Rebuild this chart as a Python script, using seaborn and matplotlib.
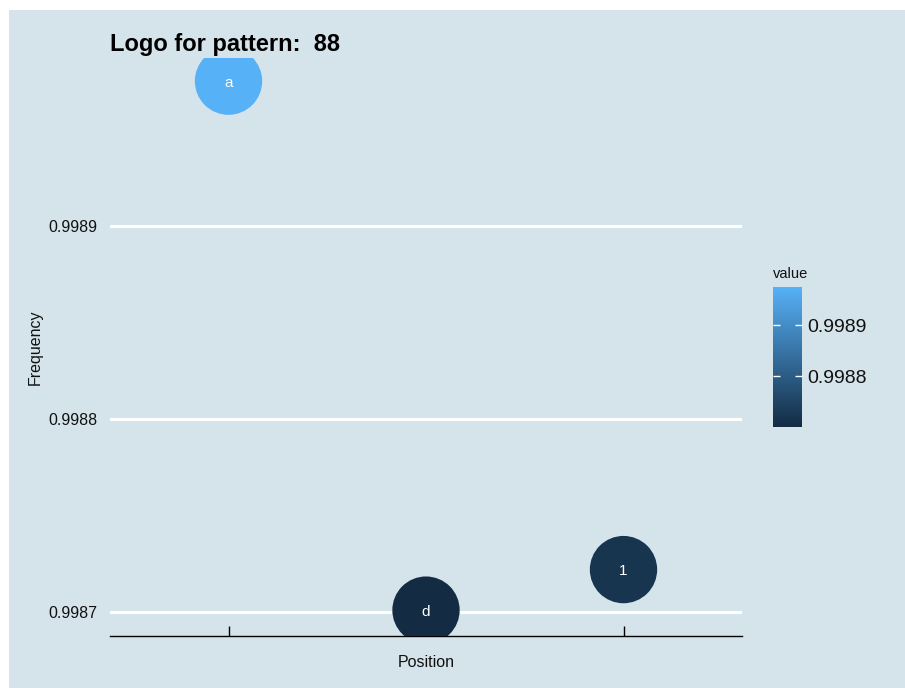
import matplotlib
matplotlib.use('Agg')
import matplotlib.pyplot as plt
import matplotlib.colors as mcolors
import matplotlib.patches as mpatches
import pandas as pd
import numpy as np
import seaborn as sns

# 数据
positions = [1, 2, 3]
letters = ['a', 'd', '1']
freq_values = [0.998975, 0.998701, 0.998722]

bg_color = '#d5e4eb'
low_color = '#132B43'
high_color = '#56B1F7'

df = pd.DataFrame({'Position': positions, 'Frequency': freq_values, 'label': letters})

sns.set_theme(style='white')
plt.rcParams['font.family'] = ['Liberation Sans', 'DejaVu Sans']

fig = plt.figure(figsize=(9.05, 6.88), dpi=100)
fig.patch.set_facecolor('white')
# 背景（上、左留白）
fig.patches.append(mpatches.Rectangle((9 / 905, 0), 1, 1 - 10 / 688, transform=fig.transFigure,
                                      facecolor=bg_color, edgecolor='none', zorder=-10))

ax = fig.add_axes([110 / 905, 52 / 688, 632 / 905, 578 / 688])
ax.set_facecolor(bg_color)

cmap = mcolors.LinearSegmentedColormap.from_list('gg', [low_color, high_color])
vmin, vmax = min(freq_values), max(freq_values)
norm = mcolors.Normalize(vmin=vmin, vmax=vmax)

sns.scatterplot(data=df, x='Position', y='Frequency', hue='Frequency', palette=cmap,
                hue_norm=norm, s=2350, linewidth=0, legend=False, ax=ax, zorder=3)

for x, y, t in zip(positions, freq_values, letters):
    ax.text(x, y, t, color='white', ha='center', va='center_baseline', fontsize=11, zorder=4)

ax.set_xlim(0.4, 3.6)
ax.set_ylim(0.9986876, 0.998987)
ax.set_yticks([0.9987, 0.9988, 0.9989])
ax.set_yticklabels(['0.9987', '0.9988', '0.9989'])
ax.set_xticks(positions)
ax.set_xticklabels([])
ax.grid(axis='y', color='white', linewidth=2.2)
ax.set_axisbelow(True)
for s in ['top', 'right', 'left']:
    ax.spines[s].set_visible(False)
ax.spines['bottom'].set_color('black')
ax.spines['bottom'].set_linewidth(1.0)
ax.tick_params(axis='x', bottom=True, direction='in', length=7, width=1, color='black')
ax.tick_params(axis='y', length=0, pad=9, labelsize=11.5, labelcolor='#111111')
ax.set_xlabel('Position', fontsize=11.5, labelpad=10, color='#111111')
ax.set_ylabel('Frequency', fontsize=11.5, labelpad=4, color='#111111')

fig.text(110 / 905, 1 - 51 / 688, 'Logo for pattern:  88', fontsize=17, fontweight='bold',
         ha='left', va='baseline', color='black')

# 色条
cax = fig.add_axes([773 / 905, (688 - 427) / 688, 29 / 905, 140 / 688])
sm = plt.cm.ScalarMappable(norm=norm, cmap=cmap)
cb = fig.colorbar(sm, cax=cax)
cb.outline.set_visible(False)
cax.set_axisbelow(False)
cb.set_ticks([0.9988, 0.9989])
cb.set_ticklabels(['0.9988', '0.9989'])
cax.tick_params(length=5, width=1, color='white', direction='in', labelsize=14, pad=4,
                left=True, right=True, labelcolor='#111111')
fig.text(773 / 905, 1 - 267 / 688, 'value', fontsize=10.5, ha='left', va='top', color='#111111')

plt.savefig('out.png', dpi=100, facecolor=fig.get_facecolor())
